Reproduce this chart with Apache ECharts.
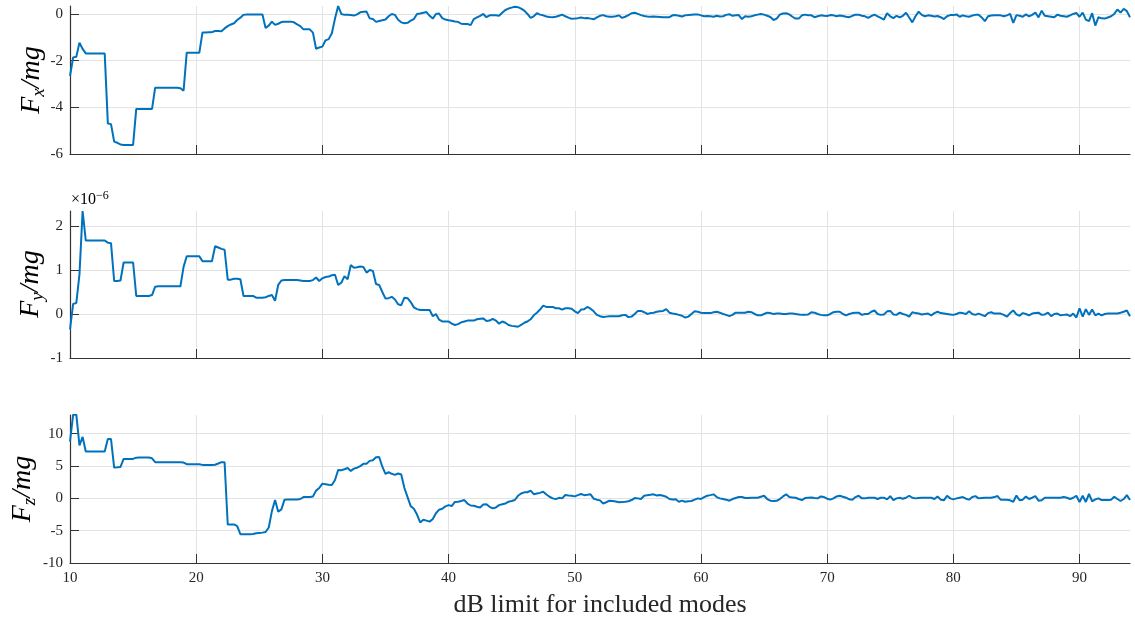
<!DOCTYPE html>
<html>
<head>
<meta charset="utf-8">
<script src="https://cdn.jsdelivr.net/npm/echarts@6/dist/echarts.min.js"></script>
<style>html,body{margin:0;padding:0;background:#fff}#c{width:1135px;height:618px}</style>
</head>
<body>
<div id="c"></div>
<script>
// dB limit grid: 10 to 94 in steps of 0.25
const dbStart = 10, dbStep = 0.25;
const xTicks = [10, 20, 30, 40, 50, 60, 70, 80, 90];
const fxTicks = [-6, -4, -2, 0];
const fyTicks = [-1, 0, 1, 2];
const fzTicks = [-10, -5, 0, 5, 10];

// F_x / mg
const fx = [
-2.66,-1.86,-1.83,-1.23, -1.5,-1.69,-1.7,-1.7, -1.7,-1.7,-1.7,-1.7, -4.69,-4.72,-5.47,-5.52, -5.59,-5.61,-5.61,-5.61,
-5.61,-4.07,-4.07,-4.07, -4.07,-4.07,-4.07,-3.16, -3.16,-3.16,-3.16,-3.16, -3.16,-3.16,-3.16,-3.18, -3.29,-1.66,-1.66,-1.66,
-1.66,-1.66,-0.79,-0.79, -0.78,-0.78,-0.73,-0.73, -0.74,-0.62,-0.52,-0.45, -0.40,-0.26,-0.16,-0.04, -0.02,-0.02,-0.02,-0.02,
-0.02,-0.02,-0.6,-0.5, -0.33,-0.47,-0.42,-0.35, -0.33,-0.33,-0.33,-0.36, -0.45,-0.52,-0.66,-0.66, -0.66,-0.8,-1.49,-1.44,
-1.40,-1.13,-1.08,-0.83, -0.2,0.34,0.0,-0.04, -0.04,-0.05,-0.07,-0.02, 0.07,0.09,0.1,-0.19, -0.22,-0.34,-0.3,-0.27,
-0.24,-0.1,0.0,-0.04, -0.25,-0.36,-0.4,-0.38, -0.29,-0.22,0.0,0.02, 0.05,0.08,-0.08,-0.2, 0.0,0.02,-0.18,-0.24,
-0.27,-0.29,-0.32,-0.34, -0.42,-0.43,-0.43,-0.48, -0.22,-0.15,-0.08,0.0, -0.14,-0.06,-0.06,-0.06, -0.08,0.05,0.17,0.23,
0.27,0.31,0.29,0.23, 0.14,0.0,-0.17,-0.1, 0.03,-0.03,-0.06,-0.11, -0.13,-0.14,-0.12,-0.08, -0.03,-0.1,-0.16,-0.21,
-0.2,-0.18,-0.15,-0.18, -0.17,-0.2,-0.23,-0.15, -0.08,-0.05,-0.1,-0.12, -0.12,-0.1,-0.06,-0.17, -0.12,-0.05,0.03,0.05,
0.0,-0.05,-0.09,-0.11, -0.12,-0.11,-0.12,-0.13, -0.14,-0.14,-0.14,-0.06, -0.05,-0.08,-0.11,-0.06, -0.05,-0.03,-0.02,-0.02,
-0.06,-0.1,-0.09,-0.1, -0.12,-0.08,-0.11,-0.1, -0.04,-0.01,-0.08,-0.06, -0.05,-0.22,-0.1,-0.12, -0.1,-0.06,-0.03,0.0,
-0.03,-0.08,-0.13,-0.26, -0.2,-0.03,0.02,0.03, -0.02,-0.12,-0.2,-0.2, -0.06,-0.03,-0.06,-0.06, -0.14,-0.1,-0.06,-0.08,
-0.09,-0.05,-0.06,-0.1, -0.07,-0.09,-0.12,-0.14, -0.08,-0.03,-0.03,-0.08, -0.1,-0.17,-0.09,-0.03, -0.1,-0.17,-0.24,0.03,
-0.1,-0.18,-0.08,-0.15, -0.08,0.05,-0.15,-0.36, -0.1,0.1,-0.04,-0.1, -0.06,-0.08,-0.11,-0.09, -0.14,-0.22,-0.1,-0.05,
-0.05,-0.02,-0.12,-0.06, -0.1,-0.12,-0.07,-0.04, -0.03,-0.15,-0.31,-0.1, -0.07,-0.06,-0.06,-0.06, -0.1,-0.06,0.0,-0.38,
-0.05,-0.08,-0.12,-0.02, -0.1,-0.04,0.06,-0.15, 0.14,-0.08,-0.1,-0.12, -0.14,-0.03,-0.08,-0.1, -0.12,-0.06,0.0,0.04,
-0.12,0.06,-0.24,-0.31, 0.03,-0.5,-0.14,-0.19, -0.2,-0.15,-0.1,0.0, 0.19,0.06,0.22,0.12, -0.14
];

// F_y / mg  (in units of 1e-6)
const fy = [
-0.35,0.23,0.25,0.9, 2.34,1.67,1.67,1.67, 1.67,1.67,1.67,1.67, 1.62,1.61,0.75,0.75, 0.76,1.17,1.17,1.17,
1.17,0.41,0.41,0.41, 0.41,0.41,0.43,0.62, 0.63,0.63,0.63,0.63, 0.63,0.63,0.63,0.63, 1.07,1.31,1.31,1.31,
1.31,1.31,1.2,1.2, 1.2,1.2,1.54,1.51, 1.48,1.46,0.78,0.78, 0.8,0.8,0.79,0.41, 0.41,0.41,0.41,0.37,
0.37,0.37,0.38,0.41, 0.43,0.3,0.66,0.76, 0.77,0.77,0.77,0.77, 0.77,0.76,0.75,0.75, 0.75,0.77,0.83,0.75,
0.81,0.84,0.85,0.88, 0.89,0.66,0.71,0.86, 0.79,1.11,1.05,1.06, 1.08,1.07,0.94,1.0, 0.98,0.68,0.66,0.5,
0.35,0.36,0.39,0.33, 0.22,0.2,0.37,0.36, 0.27,0.15,0.11,0.09, 0.09,0.09,0.09,-0.05, 0.0,-0.13,-0.17,-0.17,
-0.17,-0.22,-0.25,-0.23, -0.19,-0.17,-0.15,-0.15, -0.15,-0.12,-0.11,-0.1, -0.16,-0.15,-0.11,-0.15, -0.22,-0.17,-0.2,-0.25,
-0.27,-0.28,-0.29,-0.25, -0.2,-0.17,-0.12,-0.03, 0.03,0.1,0.19,0.16, 0.16,0.16,0.13,0.13, 0.1,0.13,0.13,0.12,
0.06,0.02,0.1,0.11, 0.16,0.12,0.06,-0.02, -0.05,-0.07,-0.06,-0.05, -0.05,-0.05,-0.05,-0.03, -0.02,-0.07,-0.06,0.0,
0.07,0.07,0.04,0.0, 0.02,0.03,0.05,0.06, 0.07,0.11,0.03,0.01, 0.0,-0.02,-0.04,-0.08, -0.06,0.0,0.06,0.05,
0.03,0.02,0.02,0.02, 0.04,0.05,0.03,0.0, -0.02,-0.05,-0.02,0.03, 0.03,0.03,0.03,0.05, 0.04,0.0,-0.03,-0.03,
0.0,0.03,0.02,0.0, 0.01,0.01,0.0,0.0, 0.01,0.01,0.0,-0.01, -0.02,-0.02,-0.01,0.04, 0.03,0.0,-0.02,-0.03,
-0.03,0.0,0.04,0.05, 0.05,0.0,-0.03,0.0, 0.02,0.03,0.03,-0.02, 0.0,0.0,0.05,0.08, 0.0,-0.02,-0.01,0.06,
0.07,-0.01,-0.02,0.03, 0.0,-0.02,-0.06,0.04, 0.02,0.01,-0.01,0.0, 0.01,-0.03,0.02,0.05, 0.02,0.01,0.0,-0.01,
-0.02,0.0,0.03,0.02, 0.0,0.06,0.0,-0.02, 0.01,-0.02,-0.05,0.02, 0.04,0.01,0.01,0.01, -0.02,-0.06,0.02,0.08,
-0.01,-0.04,0.02,0.0, -0.03,0.01,0.02,0.03, -0.02,-0.01,0.03,-0.05, 0.0,0.01,-0.03,-0.02, -0.01,-0.05,0.01,-0.08,
0.13,-0.06,0.11,-0.02, 0.1,-0.03,0.01,-0.03, 0.0,0.01,0.01,0.01, 0.01,0.03,0.05,0.08, -0.05
];

// F_z / mg
const fz = [
8.8,12.95,12.95,8.2, 9.5,7.25,7.25,7.25, 7.25,7.25,7.25,7.25, 9.17,9.17,4.77,4.8, 4.87,6.11,6.11,6.11,
6.11,6.3,6.32,6.32, 6.32,6.32,6.2,5.6, 5.6,5.6,5.6,5.6, 5.6,5.6,5.6,5.6, 5.55,5.28,5.28,5.28,
5.28,5.28,5.18,5.18, 5.18,5.18,5.2,5.4, 5.6,5.6,-4.04,-4.04, -4.04,-4.3,-5.54,-5.54, -5.54,-5.54,-5.5,-5.4,
-5.35,-5.3,-5.2,-4.5, -1.97,-0.26,-2.07,-1.7, -0.2,-0.16,-0.16,-0.16, -0.16,-0.1,0.2,0.2, 0.2,0.3,1.2,1.6,
2.28,2.2,2.1,2.07, 2.85,4.4,4.35,4.5, 4.7,4.25,4.6,4.75, 5.0,5.34,5.35,5.8, 5.9,6.37,6.4,4.9,
3.8,4.04,3.8,3.63, 3.85,3.7,1.6,0.2, -1.2,-1.6,-2.5,-3.73, -3.3,-3.45,-3.6,-3.2, -2.3,-1.75,-1.6,-1.24,
-1.04,-1.19,-0.55,-0.52, -0.4,-0.26,-0.8,-1.1, -1.14,-1.3,-1.4,-0.95, -0.9,-1.3,-1.55,-1.4, -1.05,-0.9,-0.8,-0.52,
-0.4,-0.25,0.4,0.75, 0.93,0.95,1.19,0.65, 0.75,0.85,1.04,0.6, 0.25,0.0,-0.12,0.08, 0.0,0.52,0.45,0.4,
0.31,0.5,0.67,0.5, 0.55,0.62,-0.05,-0.2, -0.31,-0.8,-0.6,-0.36, -0.4,-0.5,-0.6,-0.58, -0.52,-0.45,-0.26,0.05,
0.0,-0.1,0.41,0.5, 0.55,0.62,0.45,0.52, 0.4,0.25,-0.1,-0.16, -0.14,-0.52,-0.35,-0.52, -0.45,-0.41,-0.2,0.0,
-0.1,0.2,0.41,0.5, 0.62,0.2,0.0,-0.1, -0.2,-0.36,-0.1,0.05, 0.2,0.2,0.05,0.05, 0.1,0.1,0.1,0.26,
0.4,-0.1,-0.35,-0.41, -0.38,-0.1,0.3,0.62, 0.2,0.15,0.1,-0.1, -0.26,0.05,0.1,0.15, 0.05,0.0,0.3,0.2,
-0.05,-0.2,0.0,0.3, 0.41,0.25,0.1,-0.15, -0.2,0.2,0.41,0.0, 0.0,0.1,0.1,0.1, -0.1,0.1,0.1,-0.15,
0.35,-0.26,0.0,0.1, -0.05,0.1,0.41,0.1, 0.0,0.05,0.1,0.1, 0.1,0.1,-0.1,0.3, -0.2,-0.3,0.41,0.0,
-0.15,0.0,0.1,0.2, -0.05,-0.2,0.2,0.35, 0.0,0.05,0.1,0.1, 0.1,0.2,0.36,-0.2, -0.2,-0.2,-0.3,-0.52,
0.45,-0.3,-0.2,0.3, -0.1,0.1,0.36,-0.35, -0.3,0.1,0.1,0.1, 0.1,0.1,0.1,0.2, 0.1,-0.1,0.1,0.41,
-0.55,0.4,-0.55,0.7, -0.45,-0.15,0.0,-0.26, -0.26,-0.26,-0.21,0.26, -0.1,-0.41,-0.1,0.5, -0.26
];

const SERIF = '"Liberation Serif", "DejaVu Serif", serif';
const AXC = '#333333';
const GRIDC = '#e3e3e3';

function pairs(arr) { return arr.map((v, i) => [dbStart + dbStep * i, v]); }

const grids = [
  { left: 70, right: 5, top: 6, height: 148, outerBoundsMode: 'none', containLabel: false },
  { left: 70, right: 5, top: 211, height: 147, outerBoundsMode: 'none', containLabel: false },
  { left: 70, right: 5, top: 415, height: 148, outerBoundsMode: 'none', containLabel: false }
];

function xAxis(idx, showLabels) {
  return {
    type: 'value', gridIndex: idx, min: 10, max: 94, interval: 10,
    axisLine: { show: true, onZero: false, lineStyle: { color: AXC, width: 1.2 } },
    axisTick: { show: true, inside: true, length: 9, lineStyle: { color: AXC, width: 1 }, customValues: xTicks },
    axisLabel: { show: showLabels, customValues: xTicks, color: '#262626', fontFamily: SERIF, fontSize: 15, margin: 8 },
    splitLine: { show: true, lineStyle: { color: GRIDC, width: 1 } },
    name: showLabels ? 'dB limit for included modes' : '',
    nameLocation: 'middle', nameGap: 29,
    nameTextStyle: { fontFamily: SERIF, fontSize: 26, color: '#262626' }
  };
}

function yAxis(idx, min, max, interval, ticks) {
  return {
    type: 'value', gridIndex: idx, min: min, max: max, interval: interval,
    axisLine: { show: true, onZero: false, lineStyle: { color: AXC, width: 1.2 } },
    axisTick: { show: true, inside: true, length: 9, lineStyle: { color: AXC, width: 1 }, customValues: ticks },
    axisLabel: { customValues: ticks, color: '#262626', fontFamily: SERIF, fontSize: 15, margin: 7 },
    splitLine: { show: true, lineStyle: { color: GRIDC, width: 1 } }
  };
}

const titleRich = {
  i: { fontFamily: SERIF, fontStyle: 'italic', fontSize: 28, lineHeight: 32, color: '#262626' },
  s: { fontFamily: SERIF, fontStyle: 'italic', fontSize: 19, lineHeight: 19, verticalAlign: 'bottom', color: '#262626' }
};
function yTitle(sub, x, y) {
  return {
    type: 'text', x: x, y: y, rotation: Math.PI / 2,
    style: { text: '{i|F}{s|' + sub + '}{i|/mg}', rich: titleRich, align: 'center', verticalAlign: 'middle' }
  };
}

const chart = echarts.init(document.getElementById('c'), null, { renderer: 'canvas' });
chart.setOption({
  animation: false,
  backgroundColor: '#fff',
  grid: grids,
  xAxis: [xAxis(0, false), xAxis(1, false), xAxis(2, true)],
  yAxis: [
    yAxis(0, -6, 0.34, 2, fxTicks),
    yAxis(1, -1, 2.34, 1, fyTicks),
    yAxis(2, -10, 12.9, 5, fzTicks)
  ],
  graphic: [
    yTitle('x', 32, 80),
    yTitle('y', 31, 284),
    yTitle('z', 23, 489),
    {
      type: 'text', left: 71, top: 190,
      style: {
        text: '{a|×10}{b|−6}',
        rich: {
          a: { fontFamily: SERIF, fontSize: 16, lineHeight: 19, color: '#262626' },
          b: { fontFamily: SERIF, fontSize: 12, lineHeight: 12, verticalAlign: 'top', color: '#262626' }
        }
      }
    }
  ],
  series: [
    { type: 'line', xAxisIndex: 0, yAxisIndex: 0, data: pairs(fx), showSymbol: false, lineStyle: { color: '#0072BD', width: 2 }, itemStyle: { color: '#0072BD' } },
    { type: 'line', xAxisIndex: 1, yAxisIndex: 1, data: pairs(fy), showSymbol: false, lineStyle: { color: '#0072BD', width: 2 }, itemStyle: { color: '#0072BD' } },
    { type: 'line', xAxisIndex: 2, yAxisIndex: 2, data: pairs(fz), showSymbol: false, lineStyle: { color: '#0072BD', width: 2 }, itemStyle: { color: '#0072BD' } }
  ]
});
</script>
</body>
</html>
